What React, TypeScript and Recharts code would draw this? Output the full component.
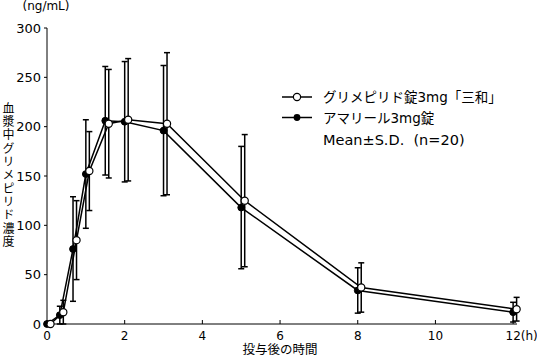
import React from "react";
import { LineChart, Line, XAxis, YAxis, ErrorBar } from "recharts";

// sampling times (h)
const TIMES = [0, 0.33, 0.67, 1, 1.5, 2, 3, 5, 8, 12];
// グリメピリド錠3mg「三和」 (open circles)
const SANWA_MEAN = [0, 12, 85, 155, 203, 207, 203, 125, 37, 15];
const SANWA_SD = [0, 12, 40, 40, 55, 62, 72, 67, 25, 12];
// アマリール3mg錠 (filled circles)
const AMARYL_MEAN = [0, 9, 76, 152, 206, 205, 196, 118, 34, 12];
const AMARYL_SD = [0, 9, 53, 55, 55, 61, 66, 62, 23, 10];

const X_TICKS = [0, 2, 4, 6, 8, 10, 12];
const Y_TICKS = [0, 50, 100, 150, 200, 250, 300];
const Y_TITLE = "血漿中グリメピリド濃度";

// open series is drawn slightly to the right, like the original figure
const DODGE = 0.09;

const FONT = '"DejaVu Sans", "Noto Sans CJK JP", sans-serif';

const sanwaData = TIMES.map((t, i) => ({ t: t + DODGE, v: SANWA_MEAN[i], sd: SANWA_SD[i] }));
const amarylData = TIMES.map((t, i) => ({ t, v: AMARYL_MEAN[i], sd: AMARYL_SD[i] }));

const OpenDot = (props: any) => (
  <circle key={props.index} cx={props.cx} cy={props.cy} r={3.6} fill="#fff" stroke="#000" strokeWidth={1.2} />
);
const FilledDot = (props: any) => (
  <circle key={props.index} cx={props.cx} cy={props.cy} r={3.4} fill="#000" stroke="#000" strokeWidth={1} />
);

const XTick = ({ x, y, payload }: any) => {
  const isLast = payload.value === 12;
  return (
    <g>
      <line x1={x} x2={x} y1={y} y2={y - 4} stroke="#000" strokeWidth={1} />
      <text
        x={isLast ? x - 7.6 : x}
        y={y + 16}
        textAnchor={isLast ? "start" : "middle"}
        fontSize={12}
        fontFamily={FONT}
        fill="#000"
      >
        {isLast ? "12(h)" : payload.value}
      </text>
    </g>
  );
};

export default function App() {
  return (
    <div style={{ position: "absolute", left: 0, top: 0, width: 537, height: 357, background: "#fff" }}>
      <LineChart
        width={537}
        height={357}
        margin={{ top: 28, right: 20, bottom: 13, left: 0 }}
      >
        <XAxis
          type="number"
          dataKey="t"
          domain={[0, 12.1]}
          ticks={X_TICKS}
          tickSize={0}
          tickMargin={0}
          tickLine={false}
          tick={<XTick />}
          height={20}
          stroke="#000"
          allowDuplicatedCategory={false}
        />
        <YAxis
          type="number"
          domain={[0, 300]}
          ticks={Y_TICKS}
          width={47}
          tickSize={3}
          tickMargin={3}
          stroke="#000"
          tick={{ fill: "#000", fontSize: 13, fontFamily: FONT }}
        />
        <Line
          data={amarylData}
          dataKey="v"
          stroke="#000"
          strokeWidth={1.5}
          dot={<FilledDot />}
          isAnimationActive={false}
        >
          <ErrorBar dataKey="sd" width={3} stroke="#000" strokeWidth={1.5} direction="y" />
        </Line>
        <Line
          data={sanwaData}
          dataKey="v"
          stroke="#000"
          strokeWidth={1.5}
          dot={<OpenDot />}
          isAnimationActive={false}
        >
          <ErrorBar dataKey="sd" width={3} stroke="#000" strokeWidth={1.5} direction="y" />
        </Line>
      </LineChart>

      <svg
        width={537}
        height={357}
        style={{ position: "absolute", left: 0, top: 0, pointerEvents: "none" }}
        fontFamily={FONT}
      >
        <text x={46} y={10} textAnchor="middle" fontSize={12}>(ng/mL)</text>
        <text
          x={7}
          y={102}
          fontSize={12}
          letterSpacing={1.35}
          style={{ writingMode: "vertical-rl" }}
        >
          {Y_TITLE}
        </text>
        <text x={280} y={354} textAnchor="middle" fontSize={12.5}>投与後の時間</text>

        {/* legend */}
        <line x1={282} x2={312} y1={97} y2={97} stroke="#000" strokeWidth={1.5} />
        <circle cx={297} cy={97} r={3.6} fill="#fff" stroke="#000" strokeWidth={1.2} />
        <text x={323} y={102} fontSize={13.5}>グリメピリド錠3mg「三和」</text>
        <line x1={282} x2={312} y1={117.5} y2={117.5} stroke="#000" strokeWidth={1.5} />
        <circle cx={297} cy={117.5} r={3.4} fill="#000" />
        <text x={323} y={122.5} fontSize={13.5}>アマリール3mg錠</text>
        <text x={323} y={145} fontSize={14.5} xmlSpace="preserve">Mean±S.D.  (n=20)</text>
      </svg>
    </div>
  );
}
